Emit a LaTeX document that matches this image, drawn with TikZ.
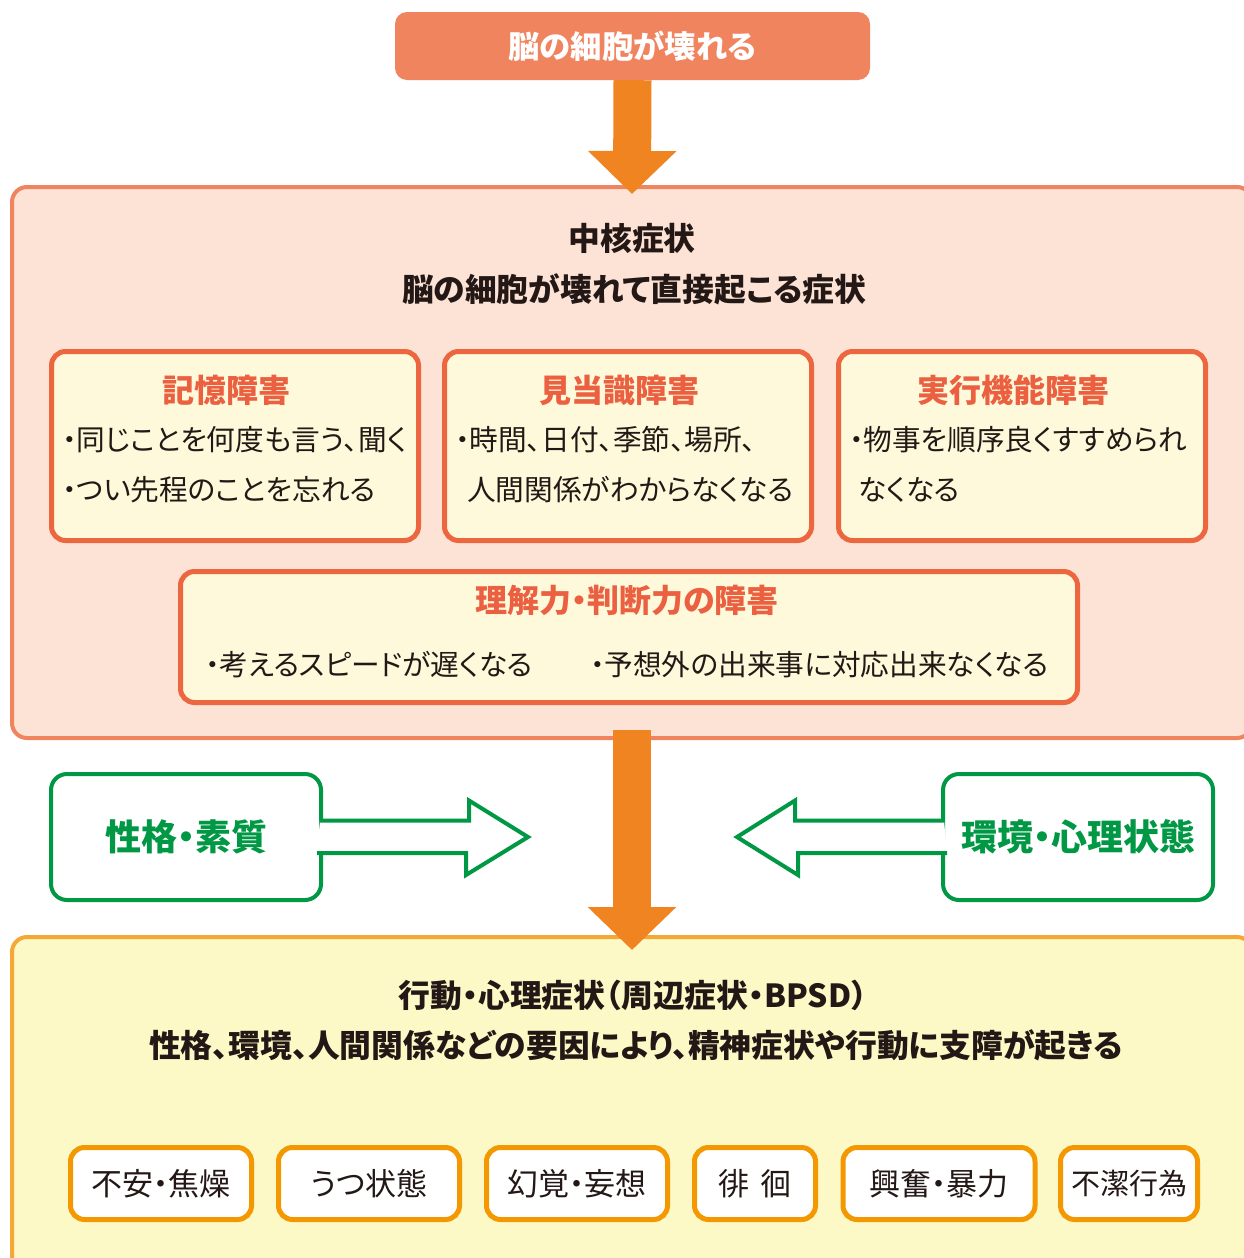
\documentclass[tikz,border=0pt]{standalone}
\usepackage{fontspec}
\setmainfont{Noto Sans CJK JP}[RawFeature=+palt]
\usetikzlibrary{arrows.meta}
\definecolor{salmon}{HTML}{EF845F}
\definecolor{coreFill}{HTML}{FDE3D6}
\definecolor{arrowOrange}{HTML}{EF8421}
\definecolor{headRed}{HTML}{EA6040}
\definecolor{boxLine}{HTML}{EC673F}
\definecolor{cream}{HTML}{FEF9DA}
\definecolor{leafGreen}{HTML}{009844}
\definecolor{bpsdFill}{HTML}{FDF9C6}
\definecolor{bpsdLine}{HTML}{F5A833}
\definecolor{tagLine}{HTML}{F39800}
\definecolor{ink}{HTML}{231815}
\tikzset{
  title/.style={inner sep=0pt, text=ink, font=\bfseries\fontsize{31.8}{36}\selectfont},
  panel/.style={draw=boxLine, line width=5pt, fill=cream, rounded corners=14pt,
    minimum width=367pt, minimum height=189pt},
  panelhead/.style={inner sep=0pt, text=headRed, font=\bfseries\fontsize{32}{36}\selectfont},
  item/.style={inner sep=0pt, anchor=west, text=ink, font=\fontsize{28.7}{32}\selectfont},
  factor/.style={draw=leafGreen, line width=4pt, fill=white, rounded corners=16pt,
    minimum width=270pt, minimum height=126pt, text=leafGreen,
    font=\bfseries\fontsize{36}{40}\selectfont},
  hollow/.style={draw=leafGreen, line width=4pt, fill=white, line join=miter},
  tag/.style={draw=tagLine, line width=5pt, fill=white, rounded corners=14pt,
    minimum height=72pt, text=ink, font=\fontsize{31}{34}\selectfont},
  blockarrow/.style={draw=arrowOrange, line width=38pt,
    -{Triangle[width=86pt,length=43pt]}}
}
\begin{document}
\begin{tikzpicture}[x=1pt, y=-1pt]
\useasboundingbox (0,0) rectangle (1244,1258);
\clip (0,0) rectangle (1244,1258);

\node[fill=salmon, rounded corners=12pt, minimum width=475pt, minimum height=68pt,
  text=white, font=\bfseries\fontsize{31.4}{34}\selectfont] (brain) at (632.5,46) {脳の細胞が壊れる};

% core symptoms
\node[draw=salmon, line width=4pt, fill=coreFill, rounded corners=15pt,
  minimum width=1240pt, minimum height=551pt] (core) at (632,462.5) {};
\node[title] (coreT1) at (632,238) {中核症状};
\node[title] (coreT2) at (634,289) {脳の細胞が壊れて直接起こる症状};

\node[panel] (mem) at (235,446) {};
\node[panelhead] (memH) at (226,390) {記憶障害};
\node[item] (mem1) at (62,440) {・同じことを何度も言う、聞く};
\node[item] (mem2) at (62,490) {・つい先程のことを忘れる};

\node[panel] (ori) at (628,446) {};
\node[panelhead] (oriH) at (619,390) {見当識障害};
\node[item] (ori1) at (455,440) {・時間、日付、季節、場所、};
\node[item] (ori2) at (467,490) {人間関係がわからなくなる};

\node[panel] (exe) at (1022,446) {};
\node[panelhead] (exeH) at (1013,390) {実行機能障害};
\node[item] (exe1) at (849,440) {・物事を順序良くすすめられ};
\node[item] (exe2) at (858,490) {なくなる};

\node[panel, minimum width=897pt, minimum height=131pt] (jud) at (629,637) {};
\node[panelhead] (judH) at (627,600) {理解力・判断力の障害};
\node[item] (jud1) at (205,665) {・考えるスピードが遅くなる};
\node[item] (jud2) at (590,665) {・予想外の出来事に対応出来なくなる};

% BPSD
\node[draw=bpsdLine, line width=4pt, fill=bpsdFill, rounded corners=15pt,
  minimum width=1240pt, minimum height=363pt] (bpsd) at (632,1118.5) {};
\node[title] (bpsdT1) at (633,995) {行動・心理症状（周辺症状・BPSD）};
\node[title] (bpsdT2) at (636,1045) {性格、環境、人間関係などの要因により、精神症状や行動に支障が起きる};

\node[tag, minimum width=181pt] (t1) at (161,1183.5) {不安・焦燥};
\node[tag, minimum width=181pt] (t2) at (369,1183.5) {うつ状態};
\node[tag, minimum width=181pt] (t3) at (577,1183.5) {幻覚・妄想};
\node[tag, minimum width=121pt] (t4) at (755,1183.5) {徘\,\,徊};
\node[tag, minimum width=192pt] (t5) at (939,1183.5) {興奮・暴力};
\node[tag, minimum width=137pt, font=\fontsize{29}{32}\selectfont] (t6) at (1129,1183.5) {不潔行為};

\draw[blockarrow] (brain.south) -- ([yshift=-9pt]core.north);
\draw[blockarrow] ([yshift=10pt]core.south) -- ([yshift=-15pt]bpsd.north);

% factors
\node[factor] (trait) at (186,837) {性格・素質};
\node[factor] (envi) at (1078,837) {環境・心理状態};
\coordinate (traitTip) at (528,837);
\coordinate (enviTip) at (737,837);
\filldraw[hollow] ([xshift=-3pt,yshift=16.5pt]trait.east) -- ++(149,0) -- ++(0,-20)
  -- (traitTip) -- ++(-62,38) -- ++(0,-22) -- ++(-149,0);
\filldraw[hollow] ([xshift=3pt,yshift=16.5pt]envi.west) -- ++(-149,0) -- ++(0,-20)
  -- (enviTip) -- ++(61,38) -- ++(0,-22) -- ++(149,0);
\end{tikzpicture}
\end{document}
